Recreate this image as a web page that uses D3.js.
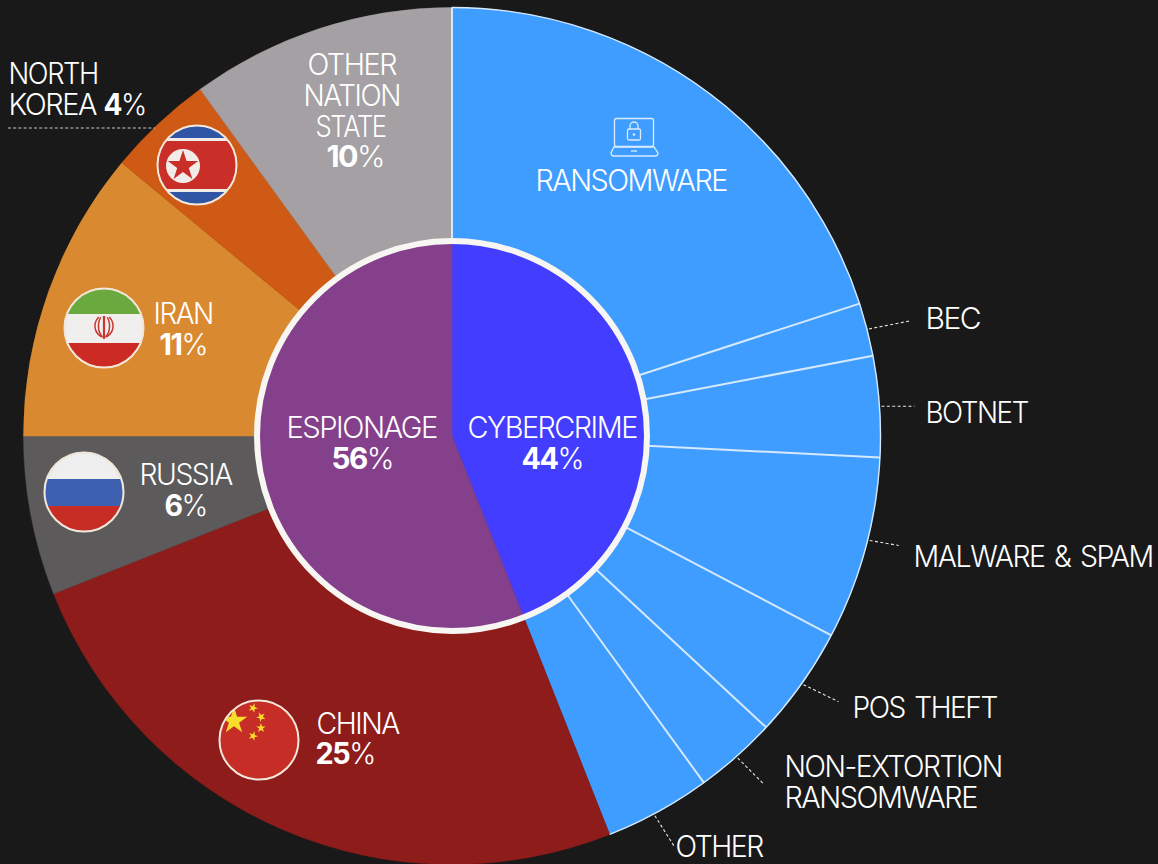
<!DOCTYPE html>
<html>
<head>
<meta charset="utf-8">
<script src="https://cdnjs.cloudflare.com/ajax/libs/d3/7.8.5/d3.min.js"></script>
<style>
  html, body { margin: 0; padding: 0; background: #191919; overflow: hidden; }
  text { font-family: Inter, "Noto Sans", sans-serif; font-weight: 300; font-size: 29.5px; letter-spacing: -1.5px; word-spacing: 3px; fill: #fff; }
  .num { font-weight: 700; }
</style>
</head>
<body>
<svg id="chart" width="1158" height="864"></svg>
<script>
// Motive split (share of incidents, %)
const motiveNames = ["CYBERCRIME", "ESPIONAGE"];
const motiveValues = [44, 56];
const motiveColors = ["#433dff", "#85408c"];

// Breakdown ring, clockwise from twelve o'clock
const cyberNames = ["RANSOMWARE", "BEC", "BOTNET", "MALWARE & SPAM", "POS THEFT", "NON-EXTORTION RANSOMWARE", "OTHER"];
const cyberValues = [20, 2, 3.8, 6.9, 4.2, 3.1, 4];
const nationNames = ["CHINA", "RUSSIA", "IRAN", "NORTH KOREA", "OTHER NATION STATE"];
const nationValues = [25, 6, 11, 4, 10];
const nationColors = ["#8e1c1a", "#5c5a5a", "#d98a30", "#cf5a15", "#a4a0a3"];
const cyberColor = "#3f9dff";

const cx = 452, cy = 436, outerR = 428.5, ringR = 195;
const svg = d3.select("#chart");
const root = svg.append("g").attr("transform", `translate(${cx},${cy})`);

const pie = d3.pie().sort(null).value(d => d.value);
const ringData = pie([
  ...cyberNames.map((name, i) => ({ name, value: cyberValues[i], color: cyberColor, group: "cyber" })),
  ...nationNames.map((name, i) => ({ name, value: nationValues[i], color: nationColors[i], group: "nation" }))
]);
const ringArc = d3.arc().innerRadius(ringR - 4).outerRadius(outerR);

root.selectAll("path.slice").data(ringData).join("path")
  .attr("class", "slice")
  .attr("d", ringArc)
  .attr("fill", d => d.data.color)
  .attr("stroke", d => d.data.color)
  .attr("stroke-width", 0.5);

// Thin light rules along the blue half only: spokes plus the outer rim
const cyberSlices = ringData.filter(d => d.data.group === "cyber");
const polar = (a, r) => [Math.sin(a) * r, -Math.cos(a) * r];
const ruleColor = "#d5e9fd";
root.selectAll("line.spoke").data(cyberSlices).join("line")
  .attr("class", "spoke")
  .attr("x1", d => polar(d.startAngle, ringR)[0])
  .attr("y1", d => polar(d.startAngle, ringR)[1])
  .attr("x2", d => polar(d.startAngle, outerR)[0])
  .attr("y2", d => polar(d.startAngle, outerR)[1])
  .attr("stroke", ruleColor)
  .attr("stroke-width", 2);
root.append("path")
  .attr("d", d3.arc().innerRadius(outerR).outerRadius(outerR)
    .startAngle(cyberSlices[0].startAngle)
    .endAngle(cyberSlices[cyberSlices.length - 1].endAngle)())
  .attr("fill", "none")
  .attr("stroke", ruleColor)
  .attr("stroke-width", 1.4);

// Centre pie with its pale ring; the espionage half is stroked to close the seam
const centreData = pie(motiveNames.map((name, i) => ({ name, value: motiveValues[i], color: motiveColors[i] })));
root.selectAll("path.centre").data(centreData).join("path")
  .attr("class", "centre")
  .attr("d", d3.arc().innerRadius(0).outerRadius(ringR - 2))
  .attr("fill", d => d.data.color)
  .attr("stroke", d => d.data.color)
  .attr("stroke-width", 0.6);
root.append("circle").attr("r", ringR).attr("fill", "none")
  .attr("stroke", "#f8f6f2").attr("stroke-width", 6);

// Dashed leaders: [slice name, angle nudge from slice middle, end offset from start]
const leaders = [
  ["BEC", 0, 41, -8], ["BOTNET", 0, 33, 0], ["MALWARE & SPAM", -0.022, 29, 5],
  ["POS THEFT", 0.0, 35, 17], ["NON-EXTORTION RANSOMWARE", 0.0, 26, 26], ["OTHER", 0.012, 19, 30]
];
leaders.forEach(([name, nudge, dx, dy]) => {
  const s = cyberSlices.find(d => d.data.name === name);
  const [x, y] = polar((s.startAngle + s.endAngle) / 2 + nudge, outerR + 2);
  root.append("line")
    .attr("x1", x).attr("y1", y).attr("x2", x + dx).attr("y2", y + dy)
    .attr("stroke", "#e6e6e6").attr("stroke-width", 1.1).attr("stroke-dasharray", "3 2.4");
});
svg.append("line").attr("x1", 8).attr("x2", 155).attr("y1", 128).attr("y2", 128)
  .attr("stroke", "#c9c9c9").attr("stroke-width", 1.1).attr("stroke-dasharray", "3 2.2");

// Circular flag badges
const defs = svg.append("defs");
function badge(id, x, y) {
  defs.append("clipPath").attr("id", id).append("circle").attr("r", 39);
  const g = svg.append("g").attr("transform", `translate(${x},${y})`);
  const inner = g.append("g").attr("clip-path", `url(#${id})`);
  g.append("circle").attr("r", 39.5).attr("fill", "none").attr("stroke", "#f3e8dc").attr("stroke-width", 2);
  return inner;
}
function stripes(g, bands) {
  bands.forEach(([y0, y1, fill]) => {
    g.append("rect").attr("x", -41).attr("width", 82).attr("y", y0).attr("height", y1 - y0).attr("fill", fill);
  });
}
const star = R => d3.symbol().type(d3.symbolStar).size(R * R / 0.8908)();

const nk = badge("flag-nk", 197, 165);
stripes(nk, [[-41, -27, "#2f55a4"], [-27, -24, "#f1ece8"], [-24, 24, "#c92f28"], [24, 27, "#f1ece8"], [27, 41, "#2f55a4"]]);
nk.append("circle").attr("cx", -14).attr("cy", 1).attr("r", 17).attr("fill", "#f1ece8");
nk.append("path").attr("d", star(16)).attr("transform", "translate(-14,1)").attr("fill", "#c92f28");

const ir = badge("flag-ir", 104, 328);
stripes(ir, [[-41, -14, "#69a93e"], [-14, 15, "#f0efee"], [15, 41, "#cc2a25"]]);
[-9, -5.5, 5.5, 9].forEach(dx => {
  ir.append("path")
    .attr("d", `M${dx * 0.25},9 Q${dx * 1.1},5 ${dx},-4 Q${dx * 0.9},-8 ${dx * 0.6},-11`)
    .attr("fill", "none").attr("stroke", "#c9352f").attr("stroke-width", 1.5);
});
ir.append("line").attr("x1", 0).attr("x2", 0).attr("y1", -12).attr("y2", 11)
  .attr("stroke", "#c9352f").attr("stroke-width", 2.2);

const ru = badge("flag-ru", 84, 492);
stripes(ru, [[-41, -13, "#efefef"], [-13, 14, "#3e60b1"], [14, 41, "#c72d25"]]);

const cn = badge("flag-cn", 259, 740);
stripes(cn, [[-41, 41, "#c62d26"]]);
[[-25, -19, 14, 0], [-6, -32, 5, 20], [2, -23, 5, 45], [2, -12, 5, 0], [-6, -4, 5, 20]].forEach(([x, y, R, rot]) => {
  cn.append("path").attr("d", star(R)).attr("transform", `translate(${x},${y}) rotate(${rot})`).attr("fill", "#f8de2a");
});

// Laptop-and-padlock pictogram above the ransomware label
const icon = svg.append("g").attr("fill", "none").attr("stroke", "#d9ecff").attr("stroke-width", 1.3);
icon.append("rect").attr("x", 614.5).attr("y", 118.5).attr("width", 39).attr("height", 28).attr("rx", 2);
icon.append("path").attr("d", "M614,147 L654,147 L658,153 Q658,156 655,156 L614,156 Q611,156 611,153 Z");
icon.append("rect").attr("x", 627.5).attr("y", 129).attr("width", 13).attr("height", 11).attr("rx", 1.5);
icon.append("path").attr("d", "M630,129 V126 A4,4 0 0 1 638,126 V129");
icon.append("circle").attr("cx", 634).attr("cy", 134.5).attr("r", 0.7);
icon.append("line").attr("x1", 631).attr("x2", 637).attr("y1", 151).attr("y2", 151);

// Every label is squeezed to a set width so the row sets neatly
function put(parts, x, baseline, width) {
  const t = svg.append("text").attr("y", 0);
  parts.forEach(([s, cls]) => t.append("tspan").attr("class", cls || null).text(s));
  const natural = t.node().getComputedTextLength() - 1.5;
  t.attr("transform", `translate(${x - 1.5},${baseline + 0.6}) scale(${width / natural},1)`);
}
const pct = v => [[String(v), "num"], ["%"]];

put([["NORTH"]], 10, 83.5, 88);
put([["KOREA"]], 10, 114, 86);
put(pct(nationValues[3]), 105, 114, 41);
put([["OTHER"]], 309, 74, 87);
put([["NATION"]], 305, 105, 95);
put([["STATE"]], 317, 136, 69);
put(pct(nationValues[4]), 328, 166, 56);
put([["RANSOMWARE"]], 537, 190, 190);
put([["IRAN"]], 155, 323.5, 58);
put(pct(nationValues[2]), 161, 354, 46);
put([["RUSSIA"]], 141, 484, 91);
put(pct(nationValues[1]), 166, 515, 41);
put([["CHINA"]], 318, 733, 81);
put(pct(nationValues[0]), 317, 763, 58);
put([["ESPIONAGE"]], 288, 437, 149);
put(pct(motiveValues[1]), 333, 468, 60);
put([["CYBERCRIME"]], 469, 437, 168);
put(pct(motiveValues[0]), 523, 468, 60);
put([["BEC"]], 927, 328, 53);
put([["BOTNET"]], 927, 422, 101);
put([["MALWARE & SPAM"]], 915, 566, 238);
put([["POS THEFT"]], 854, 717, 143);
put([["NON-EXTORTION"]], 786, 776, 216);
put([["RANSOMWARE"]], 786, 807, 191);
put([["OTHER"]], 677, 856, 86);
</script>
</body>
</html>
